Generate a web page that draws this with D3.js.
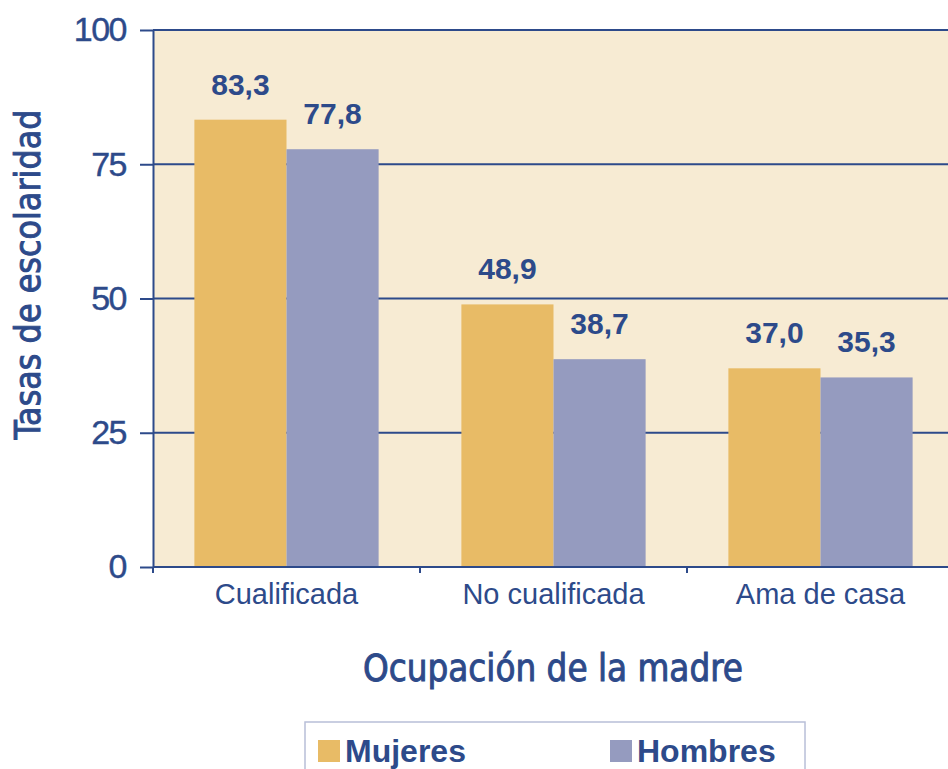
<!DOCTYPE html>
<html>
<head>
<meta charset="utf-8">
<script src="https://cdn.jsdelivr.net/npm/d3@7"></script>
<style>
  body { margin: 0; background: #fff; }
  svg { display: block; }
  text { font-family: "Liberation Sans", Arial, sans-serif; }
</style>
</head>
<body>
<script>
// data
const categories = ["Cualificada", "No cualificada", "Ama de casa"];
const seriesNames = ["Mujeres", "Hombres"];
const mujeres = [83.3, 48.9, 37.0];
const hombres = [77.8, 38.7, 35.3];
const yTicks = [0, 25, 50, 75, 100];

const width = 948;
const height = 769;
const margin = { top: 30, right: 0, bottom: 202, left: 153 };

const ink = "#2d4a8a";
const colors = { Mujeres: "#e8bb66", Hombres: "#959bbf" };

const svg = d3.select("body").append("svg")
    .attr("width", width).attr("height", height);

// plot background
svg.append("rect")
    .attr("x", margin.left).attr("y", margin.top)
    .attr("width", width - margin.left).attr("height", height - margin.bottom - margin.top)
    .attr("fill", "#f7ebd3");

const x0 = d3.scaleBand()
    .domain(categories)
    .range([margin.left, margin.left + 3 * 267])
    .paddingInner(0.31).paddingOuter(0.155);

const x1 = d3.scaleBand()
    .domain(seriesNames)
    .range([0, x0.bandwidth()]);

const y = d3.scaleLinear()
    .domain([0, 100])
    .range([height - margin.bottom, margin.top]);

// gridlines
svg.append("g").selectAll("line").data(yTicks.filter(d => d > 0)).enter().append("line")
    .attr("x1", margin.left).attr("x2", width)
    .attr("y1", d => y(d)).attr("y2", d => y(d))
    .attr("stroke", ink).attr("stroke-width", 2);

// bars
const rows = categories.map((c, i) => ({ cat: c, Mujeres: mujeres[i], Hombres: hombres[i] }));
const groups = svg.append("g").selectAll("g").data(rows).enter().append("g")
    .attr("transform", d => `translate(${x0(d.cat)},0)`);

groups.selectAll("rect").data(d => seriesNames.map(k => ({ key: k, value: d[k] }))).enter().append("rect")
    .attr("x", d => x1(d.key)).attr("width", x1.bandwidth())
    .attr("y", d => y(d.value)).attr("height", d => y(0) - y(d.value))
    .attr("fill", d => colors[d.key]);

groups.selectAll("text").data(d => seriesNames.map(k => ({ key: k, value: d[k] }))).enter().append("text")
    .attr("x", d => x1(d.key) + x1.bandwidth() / 2)
    .attr("y", d => y(d.value) - 25)
    .attr("text-anchor", "middle")
    .attr("font-size", 30).attr("font-weight", "bold")
    .attr("fill", ink)
    .text(d => d3.format(".1f")(d.value).replace(".", ","));

// y axis
const yAxis = svg.append("g")
    .attr("transform", `translate(${margin.left},0)`)
    .call(d3.axisLeft(y).tickValues(yTicks).tickSize(13).tickSizeOuter(0).tickPadding(14));
yAxis.selectAll("line, path").attr("stroke", ink).attr("stroke-width", 2);
yAxis.selectAll("text").attr("font-size", 34).attr("fill", ink).attr("letter-spacing", -1.5)
    .attr("stroke", ink).attr("stroke-width", 0.4)
    .style("font-family", "'Liberation Sans', Arial, sans-serif");

// x axis
const step = x0.step();
const xAxis = svg.append("g");
xAxis.append("line")
    .attr("x1", margin.left).attr("x2", width)
    .attr("y1", y(0)).attr("y2", y(0))
    .attr("stroke", ink).attr("stroke-width", 2);
xAxis.selectAll(".tick").data(d3.range(4)).enter().append("line")
    .attr("x1", i => margin.left + i * step).attr("x2", i => margin.left + i * step)
    .attr("y1", y(0)).attr("y2", y(0) + 6)
    .attr("stroke", ink).attr("stroke-width", 2);
xAxis.selectAll("text").data(categories).enter().append("text")
    .attr("x", d => x0(d) + x0.bandwidth() / 2)
    .attr("y", y(0) + 37)
    .attr("text-anchor", "middle")
    .attr("font-size", 29)
    .attr("fill", ink)
    .text(d => d);

// axis titles
svg.append("text")
    .attr("transform", `translate(40, ${(margin.top + y(0)) / 2 - 24}) rotate(-90)`)
    .attr("text-anchor", "middle")
    .attr("font-size", 35)
    .attr("fill", ink).attr("stroke", ink).attr("stroke-width", 0.9)
    .style("font-family", "'DejaVu Sans', sans-serif")
    .style("font-stretch", "condensed")
    .attr("textLength", 330).attr("lengthAdjust", "spacingAndGlyphs")
    .text("Tasas de escolaridad");

svg.append("text")
    .attr("x", 553).attr("y", 681)
    .attr("text-anchor", "middle")
    .attr("font-size", 37)
    .attr("fill", ink).attr("stroke", ink).attr("stroke-width", 0.9)
    .style("font-family", "'DejaVu Sans', sans-serif")
    .style("font-stretch", "condensed")
    .attr("textLength", 380).attr("lengthAdjust", "spacingAndGlyphs")
    .text("Ocupación de la madre");

// legend
svg.append("rect")
    .attr("x", 305).attr("y", 722).attr("width", 500).attr("height", 60)
    .attr("fill", "#fff").attr("stroke", "#b8bfd8").attr("stroke-width", 1.5);

const legendX = [318, 610];
const legend = svg.append("g").selectAll("g").data(seriesNames).enter().append("g")
    .attr("transform", (d, i) => `translate(${legendX[i]},740)`);
legend.append("rect")
    .attr("width", 22).attr("height", 22)
    .attr("fill", d => colors[d]);
legend.append("text")
    .attr("x", 27).attr("y", 22)
    .attr("font-size", 32).attr("font-weight", "bold")
    .attr("fill", ink)
    .text(d => d);
</script>
</body>
</html>
